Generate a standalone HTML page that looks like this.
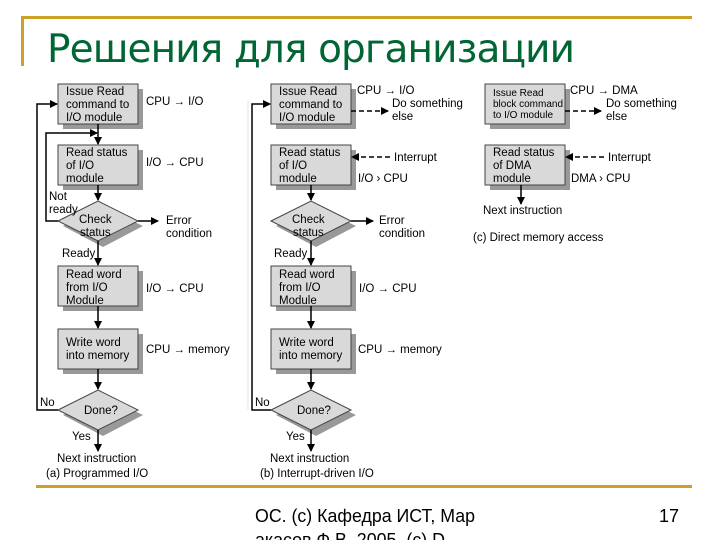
<!DOCTYPE html>
<html><head><meta charset="utf-8"><style>
body{margin:0;width:720px;height:540px;overflow:hidden;background:#fff;position:relative;font-family:"Liberation Sans",sans-serif}
svg{position:absolute;left:0;top:0}
</style></head><body>
<svg width="720" height="540" viewBox="0 0 720 540" font-family="Liberation Sans, sans-serif">
<defs>
<marker id="ar" markerWidth="8" markerHeight="8" refX="7" refY="4" orient="auto" markerUnits="userSpaceOnUse"><path d="M0,0 L8,4 L0,8 z" fill="#000"/></marker>
<g id="box"><rect x="5" y="5" width="80" height="40" fill="#999"/><rect x="0" y="0" width="80" height="40" fill="#d9d9d9" stroke="#444" stroke-width="1"/></g>
<g id="dia"><path d="M5,5 L45,-14 L85,5 L45,26 z" fill="#999"/><path d="M0,0 L40,-20 L80,0 L40,20 z" fill="#d9d9d9" stroke="#444"/></g>
</defs>
<rect x="21" y="16" width="671" height="3" fill="#c9a227"/>
<rect x="21" y="16" width="3" height="50" fill="#c9a227"/>
<rect x="36" y="485" width="656" height="3" fill="#c9a227"/>
<text x="47" y="62" font-size="39" fill="#006633" font-family="DejaVu Sans, Liberation Sans, sans-serif" textLength="528">Решения для организации</text>
<line x1="248" y1="100" x2="248" y2="410" stroke="#e4e4e4"/>

<g font-size="11.5" fill="#000" stroke="none">
<!-- column a -->
<use href="#box" x="58" y="84"/><use href="#box" x="58" y="145"/>
<use href="#dia" x="58" y="221"/>
<use href="#box" x="58" y="266"/><use href="#box" x="58" y="329"/>
<use href="#dia" x="58" y="410"/>
<g stroke="#000" stroke-width="1.5" fill="none">
<line x1="98" y1="124" x2="98" y2="144" marker-end="url(#ar)"/>
<line x1="98" y1="185" x2="98" y2="200" marker-end="url(#ar)"/>
<line x1="98" y1="241" x2="98" y2="265" marker-end="url(#ar)"/>
<line x1="98" y1="306" x2="98" y2="328" marker-end="url(#ar)"/>
<line x1="98" y1="369" x2="98" y2="389" marker-end="url(#ar)"/>
<line x1="98" y1="430" x2="98" y2="451" marker-end="url(#ar)"/>
<polyline points="58,221 46,221 46,133 97,133" marker-end="url(#ar)"/>
<polyline points="58,410 37,410 37,104 57,104" marker-end="url(#ar)"/>
<line x1="138" y1="221" x2="158" y2="221" marker-end="url(#ar)"/>
</g>
<text x="66" y="95">Issue Read</text><text x="66" y="108">command to</text><text x="66" y="121">I/O module</text>
<text x="66" y="156">Read status</text><text x="66" y="169">of I/O</text><text x="66" y="182">module</text>
<text x="79" y="223">Check</text><text x="80" y="236">status</text>
<text x="66" y="278">Read word</text><text x="66" y="291">from I/O</text><text x="66" y="304">Module</text>
<text x="66" y="346">Write word</text><text x="66" y="359">into memory</text>
<text x="84" y="414">Done?</text>
<text x="146" y="105">CPU  → I/O</text>
<text x="146" y="166">I/O → CPU</text>
<text x="146" y="292">I/O → CPU</text>
<text x="146" y="353">CPU → memory</text>
<text x="166" y="224">Error</text><text x="166" y="237">condition</text>
<text x="49" y="200">Not</text><text x="49" y="213">ready</text>
<text x="62" y="257">Ready</text>
<text x="40" y="406">No</text><text x="72" y="440">Yes</text>
<text x="57" y="462">Next instruction</text>
<text x="46" y="477">(a) Programmed I/O</text>

<!-- column b -->
<use href="#box" x="271" y="84"/><use href="#box" x="271" y="145"/>
<use href="#dia" x="271" y="221"/>
<use href="#box" x="271" y="266"/><use href="#box" x="271" y="329"/>
<use href="#dia" x="271" y="410"/>
<g stroke="#000" stroke-width="1.5" fill="none">
<line x1="311" y1="185" x2="311" y2="200" marker-end="url(#ar)"/>
<line x1="311" y1="241" x2="311" y2="265" marker-end="url(#ar)"/>
<line x1="311" y1="306" x2="311" y2="328" marker-end="url(#ar)"/>
<line x1="311" y1="369" x2="311" y2="389" marker-end="url(#ar)"/>
<line x1="311" y1="430" x2="311" y2="451" marker-end="url(#ar)"/>
<polyline points="271,410 252,410 252,104 270,104" marker-end="url(#ar)"/>
<line x1="351" y1="221" x2="373" y2="221" marker-end="url(#ar)"/>
<line x1="351" y1="111" x2="388" y2="111" stroke-dasharray="5,3" marker-end="url(#ar)"/>
<line x1="390" y1="157" x2="352" y2="157" stroke-dasharray="5,3" marker-end="url(#ar)"/>
</g>
<text x="279" y="95">Issue Read</text><text x="279" y="108">command to</text><text x="279" y="121">I/O module</text>
<text x="279" y="156">Read status</text><text x="279" y="169">of I/O</text><text x="279" y="182">module</text>
<text x="292" y="223">Check</text><text x="293" y="236">status</text>
<text x="279" y="278">Read word</text><text x="279" y="291">from I/O</text><text x="279" y="304">Module</text>
<text x="279" y="346">Write word</text><text x="279" y="359">into memory</text>
<text x="297" y="414">Done?</text>
<text x="357" y="94">CPU → I/O</text>
<text x="392" y="107">Do something</text><text x="392" y="120">else</text>
<text x="394" y="161">Interrupt</text>
<text x="358" y="182">I/O   › CPU</text>
<text x="359" y="292">I/O → CPU</text>
<text x="358" y="353">CPU → memory</text>
<text x="379" y="224">Error</text><text x="379" y="237">condition</text>
<text x="274" y="257">Ready</text>
<text x="255" y="406">No</text><text x="286" y="440">Yes</text>
<text x="270" y="462">Next instruction</text>
<text x="260" y="477">(b) Interrupt-driven I/O</text>

<!-- column c -->
<use href="#box" x="485" y="84"/><use href="#box" x="485" y="145"/>
<g stroke="#000" stroke-width="1.5" fill="none">
<line x1="521" y1="185" x2="521" y2="204" marker-end="url(#ar)"/>
<line x1="565" y1="111" x2="601" y2="111" stroke-dasharray="5,3" marker-end="url(#ar)"/>
<line x1="604" y1="157" x2="566" y2="157" stroke-dasharray="5,3" marker-end="url(#ar)"/>
</g>
<g font-size="10"><text x="493" y="96">Issue Read</text><text x="493" y="107">block command</text><text x="493" y="118">to I/O module</text></g>
<text x="493" y="156">Read status</text><text x="493" y="169">of DMA</text><text x="493" y="182">module</text>
<text x="570" y="94">CPU → DMA</text>
<text x="606" y="107">Do something</text><text x="606" y="120">else</text>
<text x="608" y="161">Interrupt</text>
<text x="571" y="182">DMA   › CPU</text>
<text x="483" y="214">Next instruction</text>
<text x="473" y="241">(c) Direct memory access</text>
</g>

<text x="255" y="522" font-size="18" fill="#000" textLength="220" lengthAdjust="spacingAndGlyphs">ОС. (с) Кафедра ИСТ, Мар</text>
<text x="255" y="546" font-size="18" fill="#000" textLength="190" lengthAdjust="spacingAndGlyphs">акасов Ф.В. 2005. (с) D</text>
<text x="659" y="522" font-size="18" fill="#000">17</text>
</svg>
</body></html>
